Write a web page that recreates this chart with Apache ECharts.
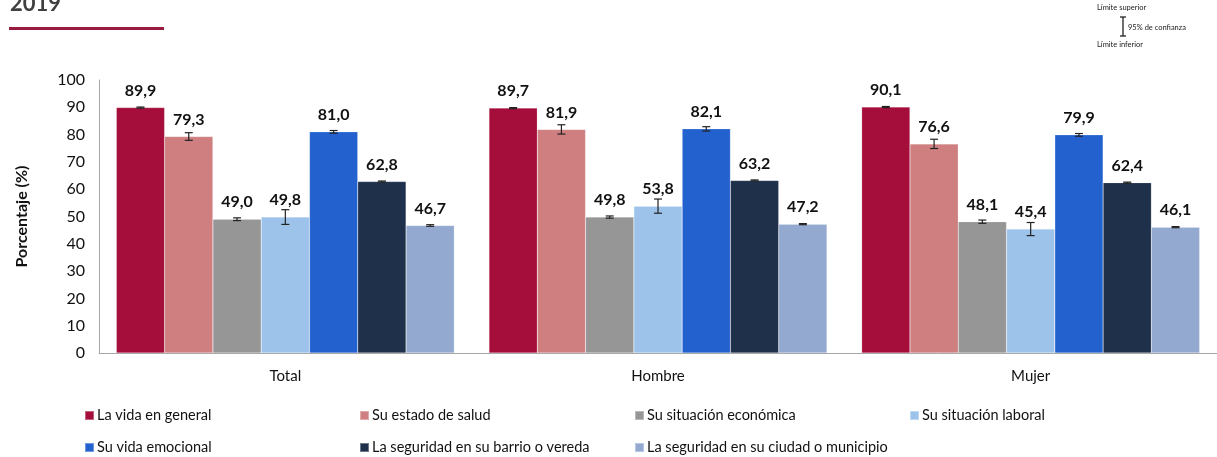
<!DOCTYPE html>
<html><head><meta charset="utf-8">
<script src="https://cdn.jsdelivr.net/npm/echarts@6/dist/echarts.min.js"></script>
<style>html,body{margin:0;padding:0;background:#fff}#c{width:1217px;height:457px}</style>
</head><body><div id="c"></div>
<script>
const categories = ['Total', 'Hombre', 'Mujer'];
const seriesNames = ['La vida en general', 'Su estado de salud', 'Su situación económica', 'Su situación laboral', 'Su vida emocional', 'La seguridad en su barrio o vereda', 'La seguridad en su ciudad o municipio'];
const vidaGeneral = [89.9, 89.7, 90.1];
const estadoSalud = [79.3, 81.9, 76.6];
const situacionEconomica = [49.0, 49.8, 48.1];
const situacionLaboral = [49.8, 53.8, 45.4];
const vidaEmocional = [81.0, 82.1, 79.9];
const seguridadBarrio = [62.8, 63.2, 62.4];
const seguridadCiudad = [46.7, 47.2, 46.1];
// half-width of 95% confidence interval
const ciVidaGeneral = [0.2, 0.2, 0.2];
const ciEstadoSalud = [1.4, 1.7, 1.7];
const ciSituacionEconomica = [0.5, 0.4, 0.6];
const ciSituacionLaboral = [2.7, 2.6, 2.4];
const ciVidaEmocional = [0.5, 0.8, 0.5];
const ciSeguridadBarrio = [0.2, 0.2, 0.2];
const ciSeguridadCiudad = [0.3, 0.2, 0.2];
const yTicks = [0, 10, 20, 30, 40, 50, 60, 70, 80, 90, 100];

const values = [vidaGeneral, estadoSalud, situacionEconomica, situacionLaboral, vidaEmocional, seguridadBarrio, seguridadCiudad];
const cis = [ciVidaGeneral, ciEstadoSalud, ciSituacionEconomica, ciSituacionLaboral, ciVidaEmocional, ciSeguridadBarrio, ciSeguridadCiudad];
const colors = ['#A50E3B', '#CF7F80', '#969696', '#9DC3EB', '#2361CF', '#1F304B', '#94A9D0'];
const FONT = 'Lato';
const catGap = 0.093;
const nS = values.length;

const chart = echarts.init(document.getElementById('c'), null, {renderer: 'canvas'});
const series = [];
values.forEach((v, i) => {
  series.push({
    name: seriesNames[i], type: 'bar', data: v, barGap: '0%', barCategoryGap: (catGap * 100) + '%',
    itemStyle: {color: colors[i], borderColor: 'rgba(255,255,255,0.35)', borderWidth: 0.5},
    label: {show: true, position: 'top', distance: 9, fontFamily: FONT, fontWeight: 'bold', fontSize: 16, color: '#111',
      formatter: p => p.value.toFixed(1).replace('.', ',')}
  });
});
values.forEach((v, i) => {
  series.push({
    type: 'custom', name: 'err' + i, silent: true, z: 5,
    data: v.map((val, k) => [k, val - cis[i][k], val + cis[i][k]]),
    renderItem: (params, api) => {
      const k = api.value(0);
      const lo = api.coord([k, api.value(1)]);
      const hi = api.coord([k, api.value(2)]);
      const cw = api.size([1, 0])[0];
      const bw = cw * (1 - catGap) / nS;
      const x = lo[0] + (i - (nS - 1) / 2) * bw;
      const hw = 4;
      const st = {stroke: '#222', lineWidth: 1.2};
      return {type: 'group', children: [
        {type: 'line', shape: {x1: x, y1: lo[1], x2: x, y2: hi[1]}, style: st},
        {type: 'line', shape: {x1: x - hw, y1: lo[1], x2: x + hw, y2: lo[1]}, style: st},
        {type: 'line', shape: {x1: x - hw, y1: hi[1], x2: x + hw, y2: hi[1]}, style: st}
      ]};
    }
  });
});

const legendLeft = [79, 354, 629, 904, 79, 354, 629];
const legendTop = [403, 403, 403, 403, 435, 435, 435];
const legends = seriesNames.map((n, i) => ({
  orient: 'horizontal', itemWidth: 9, itemHeight: 9, icon: 'rect', itemGap: 5,
  left: legendLeft[i], top: legendTop[i], data: [n],
  textStyle: {fontFamily: FONT, fontSize: 14.5, color: '#111', padding: [0, 0, 0, -2]}
}));

chart.setOption({
  animation: false,
  grid: {left: 99, top: 80, width: 1125, height: 273, containLabel: false},
  xAxis: {
    type: 'category', data: categories,
    axisLine: {lineStyle: {color: '#A6A6A6', width: 1}},
    axisTick: {show: false},
    axisLabel: {fontFamily: FONT, fontSize: 15, color: '#111', margin: 16}
  },
  yAxis: {
    type: 'value', min: yTicks[0], max: yTicks[yTicks.length - 1], interval: 10,
    name: 'Porcentaje (%)', nameLocation: 'middle', nameGap: 69,
    nameTextStyle: {fontFamily: FONT, fontWeight: 'bold', fontSize: 16, color: '#111'},
    axisLine: {show: true, lineStyle: {color: '#A6A6A6'}},
    axisTick: {show: false},
    splitLine: {show: false},
    axisLabel: {fontFamily: FONT, fontSize: 16, color: '#111', margin: 14}
  },
  legend: legends,
  graphic: [
    {type: 'text', left: 10, top: -7, style: {text: '2019', fontFamily: FONT, fontWeight: 'bold', fontSize: 22, fill: '#404040'}},
    {type: 'rect', shape: {x: 9, y: 27, width: 155, height: 3}, style: {fill: '#9B1B40'}},
    {type: 'text', x: 1097, y: 4, style: {text: 'Límite superior', fontFamily: FONT, fontSize: 7.5, fill: '#222'}},
    {type: 'text', x: 1128, y: 24, style: {text: '95% de confianza', fontFamily: FONT, fontSize: 7.5, fill: '#222'}},
    {type: 'text', x: 1097, y: 41, style: {text: 'Límite inferior', fontFamily: FONT, fontSize: 7.5, fill: '#222'}},
    {type: 'line', shape: {x1: 1123, y1: 17, x2: 1123, y2: 36}, style: {stroke: '#222', lineWidth: 1.3}},
    {type: 'line', shape: {x1: 1120, y1: 17, x2: 1126, y2: 17}, style: {stroke: '#222', lineWidth: 1.3}},
    {type: 'line', shape: {x1: 1120, y1: 36, x2: 1126, y2: 36}, style: {stroke: '#222', lineWidth: 1.3}}
  ],
  series: series
});
</script></body></html>
